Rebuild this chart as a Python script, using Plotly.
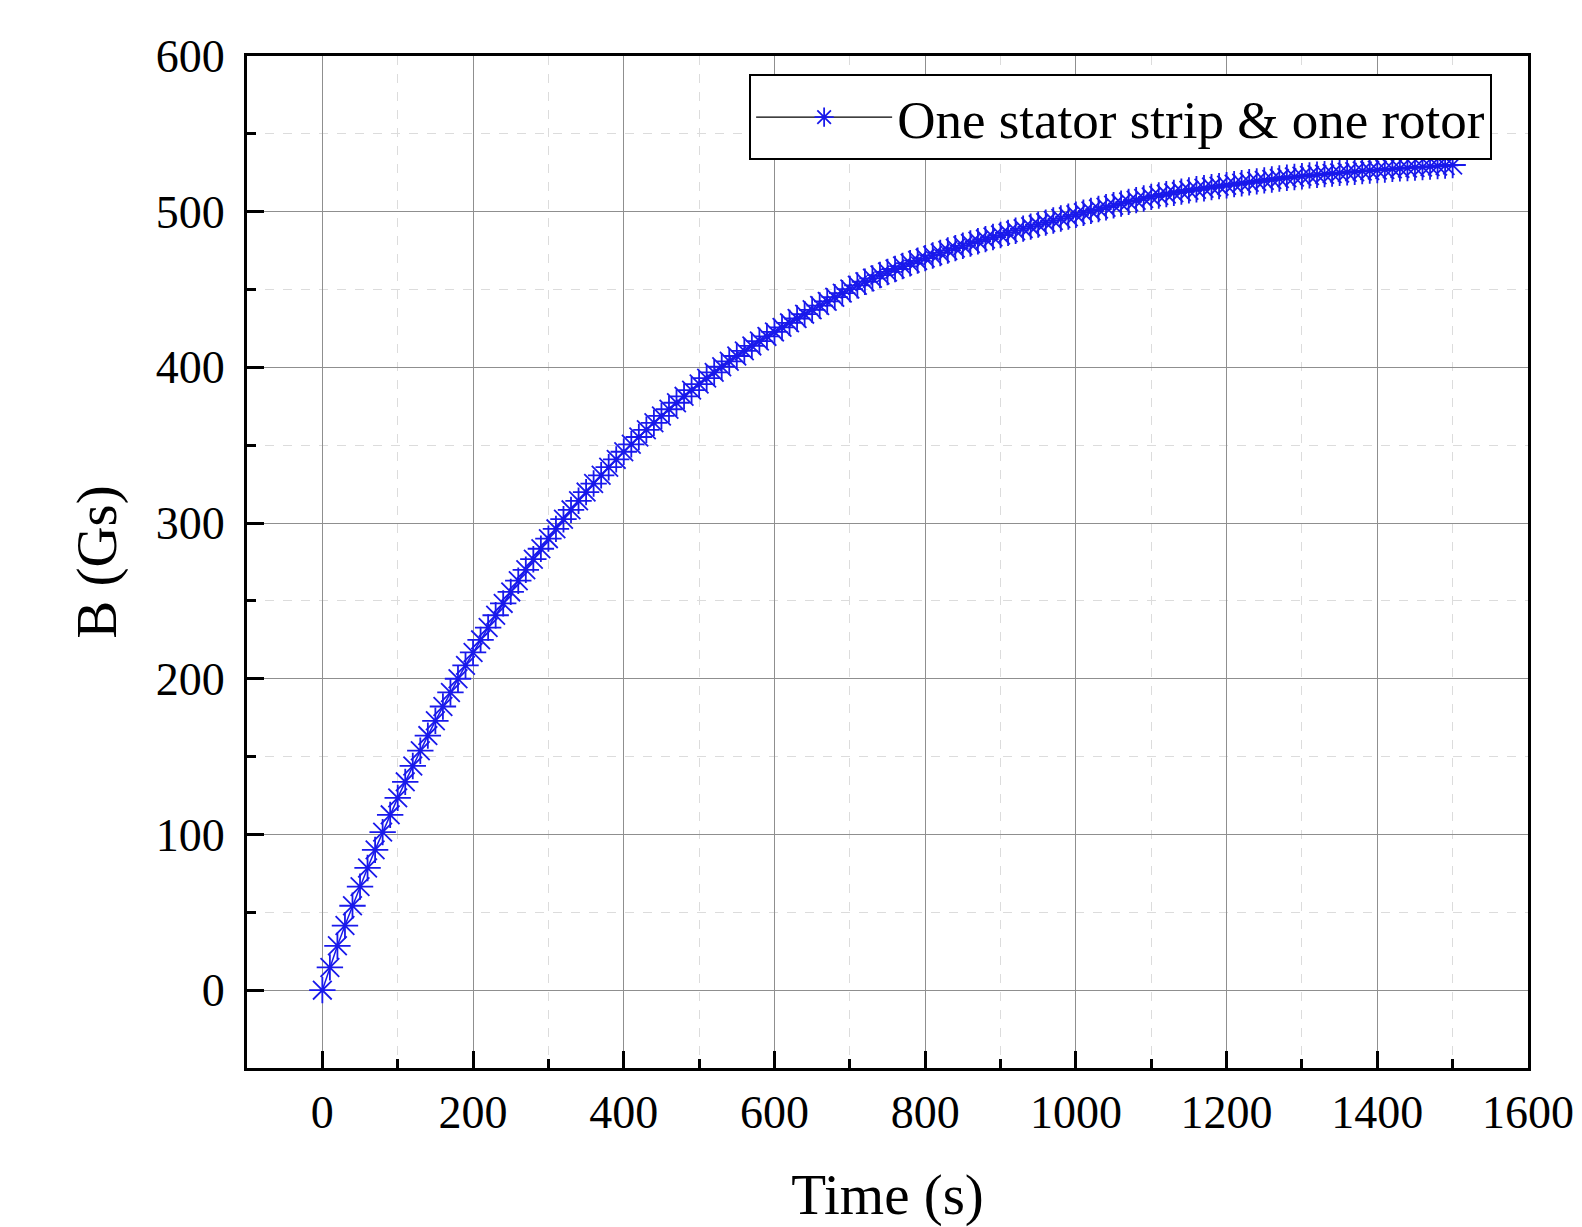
import plotly.graph_objects as go

time_s = list(range(0, 1501, 10))

b_gs = [
    0.0, 14.6, 28.5, 41.5, 54.2, 66.5, 78.5, 90.1, 101.5, 112.6,
    123.5, 133.8, 144.0, 153.8, 163.5, 173.0, 182.2, 191.2, 200.0, 208.6,
    216.9, 225.0, 232.9, 240.8, 248.4, 255.8, 263.0, 270.0, 276.8, 283.5,
    290.0, 296.3, 302.5, 308.5, 314.3, 319.9, 325.4, 330.7, 335.9, 340.9,
    345.8, 350.6, 355.3, 359.9, 364.4, 368.8, 373.1, 377.3, 381.4, 385.4,
    389.3, 393.1, 396.8, 400.4, 403.9, 407.3, 410.6, 413.8, 416.9, 419.9,
    422.8, 425.7, 428.6, 431.4, 434.2, 437.0, 439.7, 442.4, 445.1, 447.7,
    450.3, 452.7, 455.0, 457.2, 459.3, 461.3, 463.2, 465.1, 466.9, 468.6,
    470.2, 471.9, 473.5, 475.1, 476.6, 478.1, 479.6, 481.0, 482.4, 483.7,
    485.0, 486.4, 487.8, 489.1, 490.4, 491.7, 493.0, 494.3, 495.6, 496.8,
    498.0, 499.3, 500.5, 501.7, 502.9, 504.1, 505.2, 506.3, 507.4, 508.5,
    509.5, 510.4, 511.3, 512.1, 512.9, 513.7, 514.4, 515.1, 515.8, 516.4,
    517.0, 517.7, 518.3, 518.9, 519.5, 520.1, 520.7, 521.3, 521.8, 522.3,
    522.8, 523.3, 523.7, 524.1, 524.5, 524.9, 525.3, 525.7, 526.1, 526.4,
    526.7, 527.1, 527.5, 527.8, 528.1, 528.4, 528.7, 529.0, 529.3, 529.7,
    530.0,
]

series_name = "One stator strip & one rotor"
x_title = "Time (s)"
y_title = "B (Gs)"

BLUE = "rgb(25,25,235)"
FONT = "Liberation Serif, Times New Roman, serif"

fig = go.Figure()
fig.add_trace(go.Scatter(
    x=time_s, y=b_gs, mode="lines+markers",
    line=dict(color=BLUE, width=1.5),
    marker=dict(symbol="asterisk-open", size=22, color=BLUE,
                line=dict(color=BLUE, width=1.8)),
    showlegend=False,
))
# legend-only entry (black line, blue marker as in the reference)
fig.add_trace(go.Scatter(
    x=[None], y=[None], mode="lines+markers", name=series_name,
    line=dict(color="black", width=1.2),
    marker=dict(symbol="asterisk-open", size=22, color=BLUE,
                line=dict(color=BLUE, width=1.8)),
))

axis_common = dict(
    showline=True, linecolor="black", linewidth=3, mirror=True,
    ticks="inside", ticklen=17, tickwidth=3, tickcolor="black",
    showgrid=True, gridcolor="#8f8f8f", gridwidth=1.4,
    zeroline=False,
    tickfont=dict(family=FONT, size=46, color="black"),
    title_font=dict(family=FONT, size=57, color="black"),
)

fig.update_xaxes(
    **axis_common,
    range=[-100, 1600], tick0=0, dtick=200,
    ticklabelstandoff=2,
    minor=dict(dtick=100, tick0=0, ticks="inside", ticklen=9, tickwidth=3,
               tickcolor="black", showgrid=True, gridcolor="#dcdcdc",
               griddash="dash", gridwidth=1),
    title=dict(text=x_title, standoff=57),
)
fig.update_yaxes(
    **axis_common,
    range=[-50, 600], tick0=0, dtick=100,
    ticklabelstandoff=10,
    minor=dict(dtick=50, tick0=0, ticks="inside", ticklen=9, tickwidth=3,
               tickcolor="black", showgrid=True, gridcolor="#dcdcdc",
               griddash="dash", gridwidth=1),
    title=dict(text=y_title, standoff=21),
)

fig.update_layout(
    width=1582, height=1227,
    margin=dict(l=247, r=54, t=56, b=159, autoexpand=False),
    paper_bgcolor="white", plot_bgcolor="white",
    font=dict(family=FONT, color="black"),
    legend=dict(
        x=0.972, y=0.982, xanchor="right", yanchor="top",
        bgcolor="white", bordercolor="black", borderwidth=2,
        font=dict(family=FONT, size=53, color="black"),
        itemwidth=136,
    ),
)

fig.write_html("out.html")
